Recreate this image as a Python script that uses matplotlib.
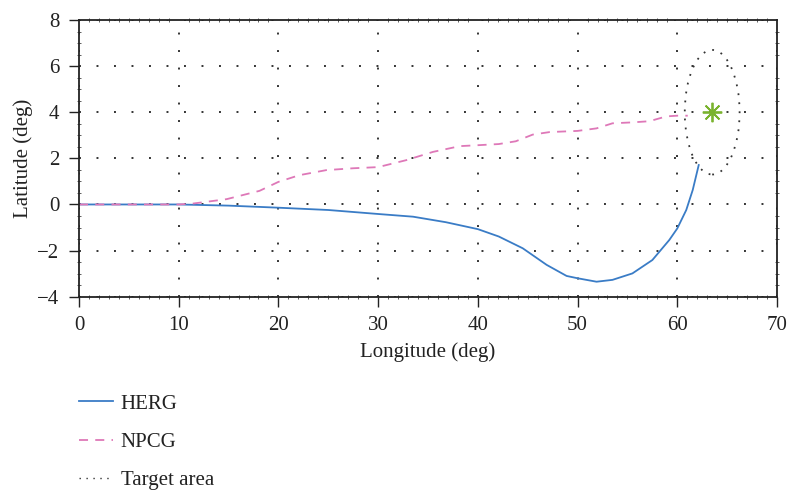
import numpy as np
import matplotlib.pyplot as plt
from matplotlib.patches import Ellipse
from matplotlib.lines import Line2D
from matplotlib.ticker import MultipleLocator

plt.rcParams['font.family'] = ['Liberation Serif', 'DejaVu Serif']

# HERG trajectory
herg_lon = [0, 5, 10, 15, 20, 25, 30.2, 33.5, 36.8, 40, 42.1, 44.5, 46.9, 48.9, 50,
            51.9, 53.5, 55.5, 57.5, 59.2, 60, 60.9, 61.55, 62.15]
herg_lat = [0, 0, 0, -0.05, -0.14, -0.24, -0.42, -0.53, -0.77, -1.07, -1.39, -1.90, -2.62, -3.10, -3.20,
            -3.35, -3.27, -2.99, -2.41, -1.54, -1.04, -0.24, 0.63, 1.71]

# NPCG trajectory
npcg_lon = [0, 5, 10, 11.45, 14.8, 18.1, 20, 22.1, 24.8, 27.5, 30, 32.8, 35.5, 38.2, 40,
            42.1, 43.8, 45.5, 47.2, 50, 51.9, 53.5, 55.5, 57.2, 58.9, 60, 61.05]
npcg_lat = [0, 0, 0, 0.04, 0.23, 0.59, 0.98, 1.27, 1.49, 1.57, 1.62, 1.92, 2.28, 2.53, 2.57,
            2.62, 2.74, 3.03, 3.14, 3.19, 3.30, 3.52, 3.56, 3.61, 3.82, 3.85, 3.85]

# target area
target_lon, target_lat = 63.5, 4.0
target_w, target_h = 5.5, 5.4

fig = plt.figure(figsize=(7.91, 4.91), dpi=100)
ax = fig.add_axes([79/791, 1 - 296.7/491, 698/791, 276.7/491])

ax.plot(herg_lon, herg_lat, color='#3a7cc6', lw=1.3)
ax.plot(npcg_lon, npcg_lat, color='#de78b8', lw=1.3, ls=(0, (5, 4)))
ax.add_patch(Ellipse((target_lon, target_lat), target_w, target_h, fill=False,
                     ls=(0, (1, 4)), lw=1.3, ec='#333333'))
ax.plot(target_lon, target_lat, marker=(8, 2, 0), ms=14, color='#7ab32e', mew=1.3, ls='none')

ax.set_xlim(0, 70)
ax.set_ylim(-4, 8)
ax.set_xticks(range(0, 71, 10))
ax.set_yticks(range(-4, 9, 2))
ax.set_yticklabels(['\u22124', '\u22122', '0', '2', '4', '6', '8'])
ax.xaxis.set_minor_locator(MultipleLocator(1))
ax.yaxis.set_minor_locator(MultipleLocator(0.5))
ax.tick_params(which='major', direction='out', length=7, width=1, labelsize=15,
               colors='#222222', pad=7)
ax.tick_params(which='minor', direction='inout', length=3, width=0.6, colors='#444444',
               top=True, right=True)
ax.grid(True, which='major', ls=(0, (1, 8)), color='#333333', lw=1.4)
for s in ax.spines.values():
    s.set_linewidth(1.3)
    s.set_color('#222222')

ax.set_xlabel('Longitude (deg)', fontsize=15, color='#222222', labelpad=5)
ax.set_ylabel('Latitude (deg)', fontsize=15, color='#222222', labelpad=3)

handles = [Line2D([], [], color='#3a7cc6', lw=1.3),
           Line2D([], [], color='#de78b8', lw=1.3, ls=(0, (5, 4))),
           Line2D([], [], color='#333333', lw=1.0, ls=(0, (1, 4)))]
fig.legend(handles, ['HERG', 'NPCG', 'Target area'], loc='upper left',
           bbox_to_anchor=(79/791, 1 - 394/491), frameon=False, fontsize=15,
           borderpad=0, borderaxespad=0,
           handlelength=1.65, handletextpad=0.35, labelspacing=0.9, labelcolor='#222222')

fig.savefig('out.png', dpi=100)
